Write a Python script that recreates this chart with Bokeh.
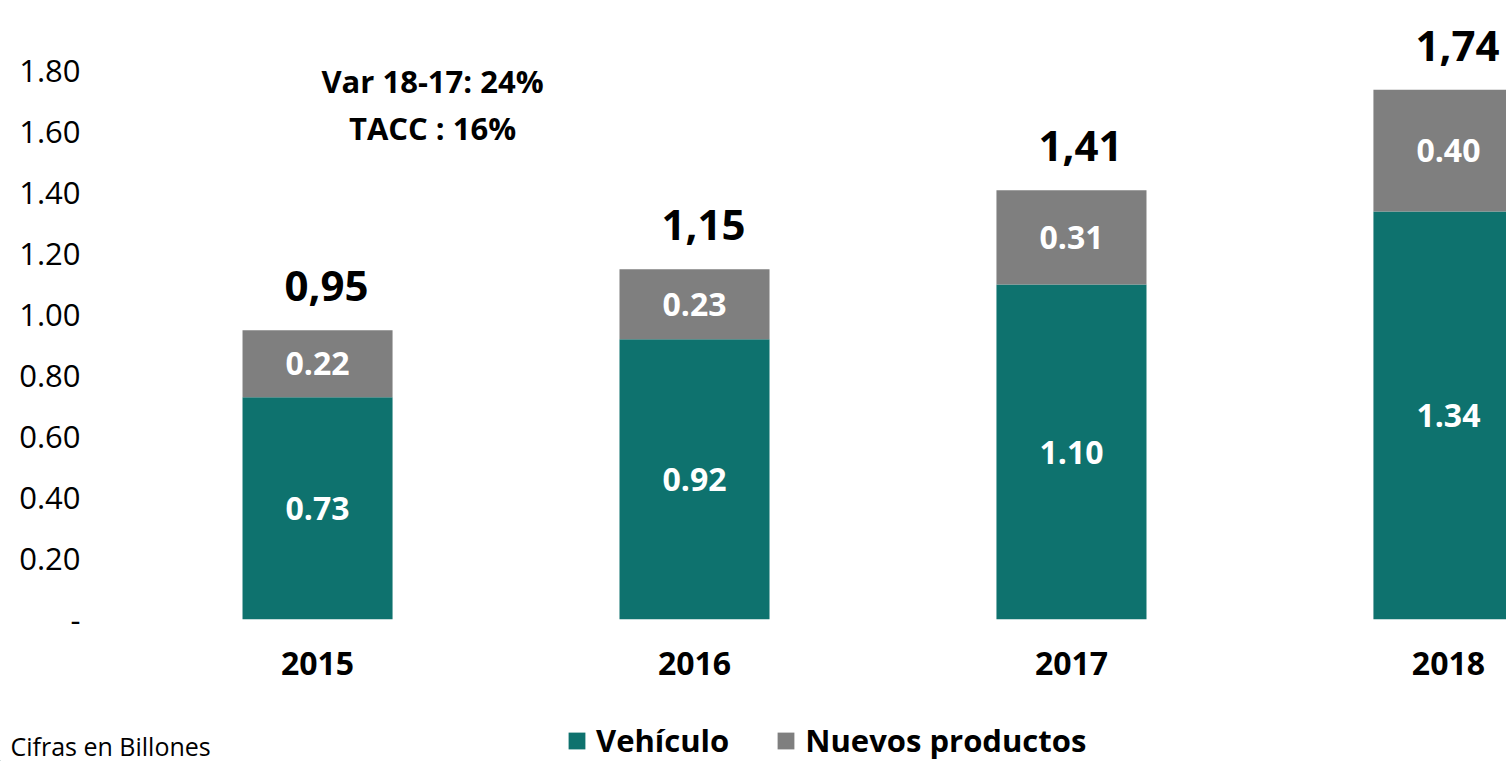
from bokeh.plotting import figure
from bokeh.layouts import column, row
from bokeh.models import (Range1d, FixedTicker, ColumnDataSource, Label, Legend,
                          LegendItem)
from bokeh.core.properties import value
from bokeh.embed import file_html
from bokeh.resources import INLINE

# ---- data ----
years = ["2015", "2016", "2017", "2018"]
vehiculo = [0.73, 0.92, 1.10, 1.34]
nuevos = [0.22, 0.23, 0.31, 0.40]
totals = [0.95, 1.15, 1.41, 1.74]
y_ticks = [0.0, 0.2, 0.4, 0.6, 0.8, 1.0, 1.2, 1.4, 1.6, 1.8]
y_tick_labels = ["-", "0.20", "0.40", "0.60", "0.80", "1.00", "1.20", "1.40", "1.60", "1.80"]
series_names = ["Vehículo", "Nuevos productos"]
note_lines = ["Var 18-17: 24%", "TACC : 16%"]
footnote = "Cifras en Billones"

TEAL = "#0E726E"
GRAY = "#7F7F7F"
FONT = "Open Sans"
W = 1506

x = list(range(len(years)))
src = ColumnDataSource(dict(
    x=x,
    veh=vehiculo,
    nue=nuevos,
    veh_mid=[v / 2 for v in vehiculo],
    nue_mid=[v + n / 2 for v, n in zip(vehiculo, nuevos)],
    top=[v + n for v, n in zip(vehiculo, nuevos)],
    veh_txt=[f"{v:.2f}" for v in vehiculo],
    nue_txt=[f"{n:.2f}" for n in nuevos],
    tot_txt=[f"{t:.2f}".replace(".", ",") for t in totals],
))

p = figure(width=W, height=700, output_backend="svg", toolbar_location=None,
           x_range=Range1d(-0.589, 3.154), y_range=Range1d(0, 2.0),
           min_border_left=95, min_border_right=0, min_border_top=10,
           min_border_bottom=81)
p.outline_line_color = None
p.grid.grid_line_color = None
p.background_fill_color = "white"
p.border_fill_color = "white"

rs = p.vbar_stack(["veh", "nue"], x="x", width=0.398, color=[TEAL, GRAY],
                  line_color=None, source=src)

# in-bar labels
for ycol, tcol in (("veh_mid", "veh_txt"), ("nue_mid", "nue_txt")):
    p.text(x="x", y=ycol, text=tcol, source=src, text_color="white",
           text_font=value(FONT), text_font_style="bold", text_font_size="32px",
           text_align="center", text_baseline="middle")
# totals
p.text(x="x", y="top", text="tot_txt", source=src, text_color="black",
       text_font=value(FONT), text_font_style="bold", text_font_size="42px",
       text_align="center", text_baseline="middle", x_offset=9, y_offset=-44)

# axes
p.xaxis.ticker = FixedTicker(ticks=x)
p.xaxis.major_label_overrides = {i: y for i, y in zip(x, years)}
p.xaxis.axis_line_color = None
p.xaxis.major_tick_line_color = None
p.xaxis.minor_tick_line_color = None
p.xaxis.major_label_text_font = FONT
p.xaxis.major_label_text_font_style = "bold"
p.xaxis.major_label_text_font_size = "32px"
p.xaxis.major_label_text_color = "black"
p.xaxis.major_label_standoff = 26

p.yaxis.ticker = FixedTicker(ticks=y_ticks)
p.yaxis.major_label_overrides = {t: l for t, l in zip(y_ticks, y_tick_labels)}
p.yaxis.axis_line_color = None
p.yaxis.major_tick_line_color = None
p.yaxis.minor_tick_line_color = None
p.yaxis.major_label_text_font = FONT
p.yaxis.major_label_text_font_size = "31px"
p.yaxis.major_label_text_color = "black"
p.yaxis.major_label_standoff = 9

# annotation
for i, line in enumerate(note_lines):
    p.add_layout(Label(x=0.305, y=1.77 - i * 0.155, text=line, text_font=FONT,
                       text_font_style="bold", text_font_size="31px",
                       text_align="center", text_baseline="middle",
                       text_color="black"))

# ---- bottom strip: footnote + legend ----
q = figure(width=W, height=61, output_backend="svg", toolbar_location=None,
           x_axis_location=None, y_axis_location=None,
           x_range=Range1d(0, W), y_range=Range1d(0, 61),
           min_border=0, min_border_left=0, min_border_right=0,
           min_border_top=0, min_border_bottom=0)
q.grid.grid_line_color = None
q.outline_line_color = None
q.background_fill_color = "white"
q.border_fill_color = "white"

# legend swatches (drawn off-range; only their legend glyphs show)
lr = [q.vbar(x=[-100], top=[1], width=1, color=c, line_color=None) for c in (TEAL, GRAY)]

q.add_layout(Label(x=10, y=16, text=footnote, text_font=FONT, text_font_size="25px",
                   text_align="left", text_baseline="middle", text_color="black"))

legend = Legend(items=[LegendItem(label=series_names[i], renderers=[lr[i]]) for i in range(2)],
                location=(566, 0), orientation="horizontal",
                glyph_width=21, glyph_height=21, label_standoff=9, spacing=46,
                padding=0, margin=0, border_line_color=None,
                background_fill_alpha=0,
                label_text_font=FONT, label_text_font_style="bold",
                label_text_font_size="31px", label_text_color="black")
q.add_layout(legend)

layout = column(p, row(q), spacing=0)
open("out.html", "w").write(file_html(layout, INLINE))
